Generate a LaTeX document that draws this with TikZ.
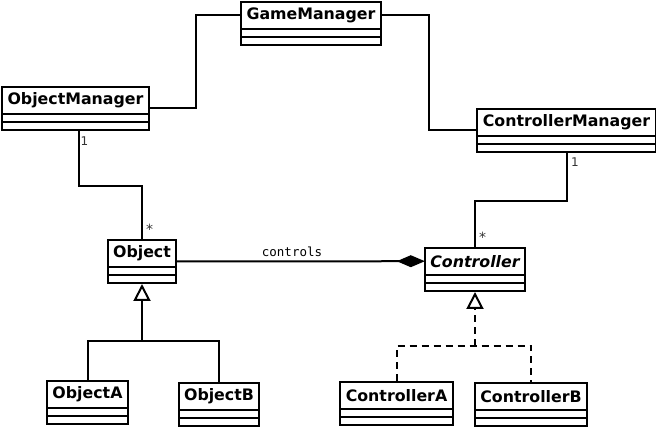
\documentclass[tikz,border=0pt]{standalone}
\usepackage{fontspec}
\setmainfont{DejaVu Sans}
\newfontfamily\monof{DejaVu Sans Mono}
\usetikzlibrary{arrows.meta,calc}
\tikzset{
 box/.style={draw, line width=2pt, inner sep=0pt, fill=white},
 ttl/.style={inner sep=0pt, minimum height=28pt, font=\fontsize{15.8}{18}\selectfont\bfseries},
 conn/.style={line width=2pt},
 dconn/.style={line width=2pt, dash pattern=on 7pt off 5pt},
 mult/.style={font=\fontsize{12}{14}\selectfont, text=black!80, inner sep=0pt},
 star/.style={font=\fontsize{14}{16}\selectfont, text=black!80, inner sep=0pt},
 lbl/.style={font=\fontsize{12.5}{14}\selectfont\monof, inner sep=0pt},
 inh/.style={-{Triangle[open, length=17pt, width=17pt, line width=2pt]}},
 comp/.style={-{Diamond[length=28pt, width=12pt]}},
}
\newcommand{\umlclass}[6][]{%
 \node[box, minimum width=#5pt, minimum height=43pt, anchor=north west] (#2) at (#3,#4) {};
 \node[ttl, minimum width=#5pt, anchor=north, #1] (#2t) at (#2.north) {#6};
 \draw[line width=2pt] ($(#2.north west)+(0,-28pt)$) -- ($(#2.north east)+(0,-28pt)$);
 \draw[line width=2pt] ($(#2.north west)+(0,-36pt)$) -- ($(#2.north east)+(0,-36pt)$);
}
\begin{document}
\begin{tikzpicture}[x=1pt, y=-1pt]
\useasboundingbox (0,0) rectangle (656,427);
\umlclass{gm}{240}{1}{140}{GameManager}
\umlclass{om}{1}{86}{147}{ObjectManager}
\umlclass{cm}{476}{108}{179}{ControllerManager}
\umlclass{obj}{107}{239}{68}{Object}
\umlclass[font=\fontsize{15.8}{18}\selectfont\bfseries\itshape]{ctl}{424}{247}{100}{Controller}
\umlclass{oa}{46}{380}{81}{ObjectA}
\umlclass{ob}{178}{382}{80}{ObjectB}
\umlclass{ca}{339}{381}{113}{ControllerA}
\umlclass{cb}{474}{382}{112}{ControllerB}

\draw[conn] (gmt.west) -- ++(-45pt,0) |- (om.east);
\draw[conn] (gmt.east) -- ++(48pt,0) |- (cm.west);
\draw[conn] ([xshift=3pt]om.south) -- ++(0,-55pt) -| (obj.north);
\draw[conn] (cm.south) -- ++(0,-48pt) -| (ctl.north);
\node[mult, anchor=west] (m1) at ([xshift=5pt,yshift=-10pt]om.south) {1};
\node[star, anchor=west] (m2) at ([xshift=4pt,yshift=10pt]obj.north) {*};
\node[mult, anchor=west] (m3) at ([xshift=4.5pt,yshift=-9pt]cm.south) {1};
\node[star, anchor=west] (m4) at ([xshift=4pt,yshift=10pt]ctl.north) {*};

\draw[conn, comp] (obj.east) -- (ctlt.west);
\node[lbl] (ctrl) at (292,252) {controls};

\coordinate (objj) at ($(obj.south)+(0,-57pt)$);
\draw[conn, inh] (objj) -- (obj.south);
\draw[conn] (oa.north) |- (objj) -| (ob.north);

\coordinate (ctlj) at ($(ctl.south)+(0,-54pt)$);
\draw[dconn, inh] (ctlj) -- (ctl.south);
\draw[dconn] (ca.north) |- (ctlj) -| (cb.north);
\end{tikzpicture}
\end{document}
